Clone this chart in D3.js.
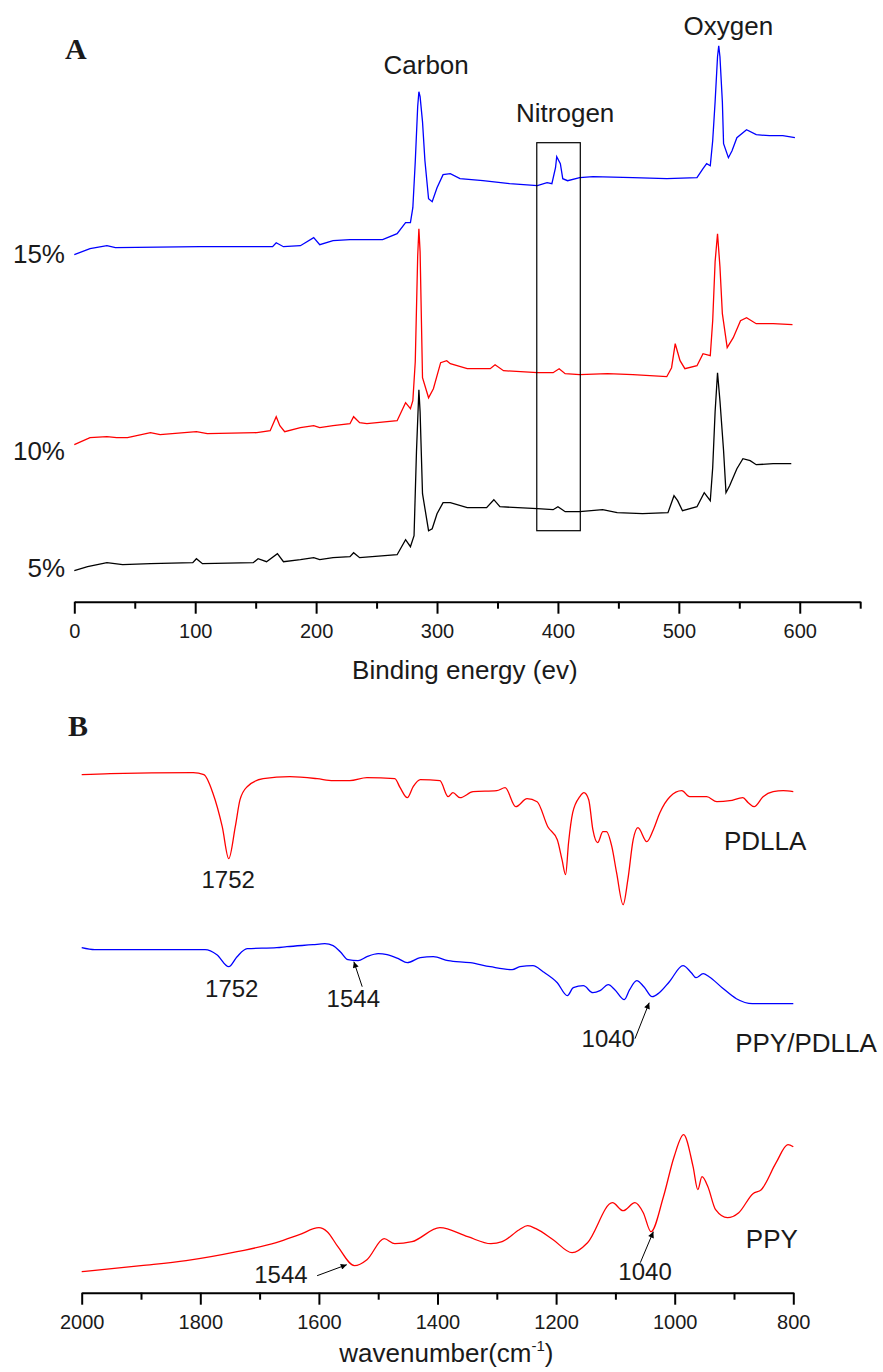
<!DOCTYPE html>
<html>
<head>
<meta charset="utf-8">
<script src="https://cdn.jsdelivr.net/npm/d3@7"></script>
<style>
  body { margin: 0; background: #fff; }
  svg text { font-family: "Liberation Sans", Arial, sans-serif; fill: #1a1a1a; }
</style>
</head>
<body>
<svg id="chart" width="883" height="1372"></svg>
<script>
// ---- Panel A: XPS survey spectra (binding energy, eV / intensity a.u.) ----
const energy15 = [0,13,27,34,104,164,167,173,187,198,203,214,228,255,267,274,278,280,282,284,285,286,288,290,293,296,300,305,311,319,338,360,383,391,395,398,399,402,404,408,418,429,462,490,515,520,523,526,528,530,532,533,534,536,537,541,544,548,556,564,575,586,596];
const counts15 = [347,353,356,354,355,355,359,355,356,364,357,361,362,362,368,379,379,394,440,495,510,505,480,441,403,400,414,427,428,423,421,418,416,419,418,434,445,438,423,421,424,425,424,423,424,433,438,436,461,500,545,556,545,500,458,444,451,464,472,467,466,466,464];

const energy10 = [0,13,27,35,44,63,71,101,110,151,162,167,170,174,187,198,203,214,228,231,236,242,267,274,278,280,282,284,285,286,288,293,297,303,308,311,325,344,348,355,383,396,401,406,418,441,462,490,494,497,501,505,515,520,526,528,530,532,534,536,540,545,551,556,564,578,594];
const counts10 = [157,164,165,164,164,169,167,170,168,169,171,185,176,170,174,176,174,176,178,185,179,178,181,199,193,201,240,345,373,350,224,204,213,239,241,238,233,233,237,231,229,229,233,228,227,228,227,225,234,258,241,233,236,248,246,281,340,368,335,288,254,264,281,284,278,278,277];

const energy5 = [0,11,27,40,63,98,101,106,148,152,159,168,173,187,198,203,214,228,231,236,267,274,278,281,283,285,286,288,293,296,300,305,311,325,341,347,352,383,396,400,406,418,437,449,470,491,496,499,503,515,521,526,528,530,532,534,537,539,542,548,553,559,564,578,593];
const counts5 = [31,35,39,37,38,39,43,38,39,43,40,48,40,42,44,42,44,45,49,44,47,62,55,66,150,212,190,108,71,73,88,99,99,94,94,102,95,93,92,95,90,90,92,89,88,89,106,101,91,95,109,101,134,190,229,201,151,109,116,133,143,141,137,138,138];

const xpsLabels = ["15%", "10%", "5%"];
const xpsLabelLevel = [339, 142, 25];
const elementNames = ["Carbon", "Nitrogen", "Oxygen"];
const elementEnergy = [291, 406, 541];
const elementLevel = [528, 480, 567];
const nitrogenBox = [382.5, 418.5, 71, 459]; // eV from, eV to, level low, level high
const energyMajor = [0, 100, 200, 300, 400, 500, 600];
const energyMinor = [50, 150, 250, 350, 450, 550, 650];

// ---- Panel B: FTIR spectra (wavenumber, cm-1 / transmittance a.u.) ----
const wnPDLLA = [2000,1952,1812,1794,1779,1763,1752,1741,1733,1721,1694,1649,1603,1576,1548,1519,1472,1463,1451,1441,1429,1396,1382,1374,1362,1340,1300,1286,1268,1249,1232,1214,1198,1190,1184,1179,1172,1160,1153,1145,1138,1130,1121,1115,1106,1098,1087,1079,1070,1062,1047,1036,1025,1008,988,975,946,929,907,885,876,866,851,834,817,800];
const tPDLLA = [518,519,520,518,500,466,434,466,493,506,514,516,514,512,512,515,514,505,495,506,513,512,496,500,495,501,502,505,486,494,491,466,453,433,418,450,480,496,500,493,463,450,461,461,446,420,388,413,453,465,451,463,480,496,502,496,496,491,492,495,490,486,496,501,502,501];

const wnBlend = [2000,1978,1913,1792,1772,1752,1738,1721,1671,1654,1610,1590,1576,1564,1551,1534,1519,1500,1485,1466,1451,1429,1407,1382,1345,1311,1274,1261,1239,1222,1198,1181,1171,1154,1138,1126,1112,1101,1085,1076,1064,1052,1038,1026,1009,986,972,964,952,942,920,896,869,834,800];
const tBlend = [345,343,343,343,338,326,336,344,345,346,348,349,347,341,333,332,336,339,338,334,330,335,336,332,330,326,323,326,327,321,310,297,305,307,300,302,308,303,293,303,312,306,296,300,311,327,320,315,319,316,305,294,289,289,289];

const wnPPY = [2000,1900,1824,1738,1672,1633,1600,1586,1568,1540,1519,1490,1472,1443,1396,1349,1310,1291,1262,1248,1234,1205,1173,1147,1105,1087,1067,1053,1040,1019,1001,985,969,961,954,944,931,911,892,868,854,829,809,800];
const tPPY = [21,27,32,41,50,58,65,61,46,27,33,54,49,51,65,56,49,51,63,67,64,53,40,50,90,82,90,80,61,96,136,158,126,103,116,106,83,75,80,99,103,130,148,146];

const ftirNames = ["PDLLA", "PPY/PDLLA", "PPY"];
const ftirNameWn = [917, 898, 880];
const ftirNameLevel = [443, 241, 45];
// peak labels: text, wavenumber, level (text anchor), optional arrow [wn0, lv0, wn1, lv1]
const peakText = ["1752", "1752", "1544", "1040", "1544", "1040"];
const peakWn = [1753, 1747, 1542, 1112, 1664, 1050];
const peakLevel = [405, 296, 286, 246, 10, 13];
const peakArrows = [null, null, [1527, 306, 1541, 331], [1067, 254, 1043, 290], [1603, 17, 1553, 28], [1058, 30, 1036, 61]];
const wnMajor = [2000, 1800, 1600, 1400, 1200, 1000, 800];
const wnMinor = [1900, 1700, 1500, 1300, 1100, 900];

const svg = d3.select('#chart');

svg.append('defs').append('marker')
  .attr('id', 'arrow')
  .attr('viewBox', '0 0 10 10')
  .attr('refX', 10).attr('refY', 5)
  .attr('markerWidth', 8).attr('markerHeight', 6)
  .attr('markerUnits', 'userSpaceOnUse')
  .attr('orient', 'auto')
  .append('path').attr('d', 'M0,0 L10,5 L0,10 z').attr('fill', '#000');

function drawAxis (g, scale, major, minor, y) {
  g.append('g').attr('transform', `translate(0,${y})`)
    .call(d3.axisBottom(scale).tickValues(minor).tickSize(7).tickSizeOuter(0).tickFormat(''))
    .call(a => a.select('.domain').remove());
  const ax = g.append('g').attr('transform', `translate(0,${y})`)
    .call(d3.axisBottom(scale).tickValues(major).tickSize(12).tickSizeOuter(0).tickPadding(10).tickFormat(d3.format('d')));
  ax.selectAll('line, path').attr('stroke', '#000').attr('stroke-width', 2);
  g.selectAll('.tick line').attr('stroke', '#000').attr('stroke-width', 2);
  ax.selectAll('text').attr('font-size', 20).attr('font-family', '"Liberation Sans", Arial, sans-serif').attr('fill', '#333');
}

// ------------------------- Panel A -------------------------
const xA = d3.scaleLinear().domain([0, 650]).range([74.3, 860.2]);
const yA = d3.scaleLinear().domain([0, 600]).range([601.7, 1.7]);
const gA = svg.append('g');

const lineA = d3.line().x(d => xA(d[0])).y(d => yA(d[1]));
const xps = [
  { e: energy15, c: counts15, color: '#0000ff' },
  { e: energy10, c: counts10, color: '#ff0000' },
  { e: energy5, c: counts5, color: '#000000' }
];
xps.forEach(s => {
  gA.append('path')
    .datum(d3.zip(s.e, s.c))
    .attr('d', lineA)
    .attr('fill', 'none')
    .attr('stroke', s.color)
    .attr('stroke-width', 1.3);
});

gA.append('rect')
  .attr('x', xA(nitrogenBox[0]))
  .attr('y', yA(nitrogenBox[3]))
  .attr('width', xA(nitrogenBox[1]) - xA(nitrogenBox[0]))
  .attr('height', yA(nitrogenBox[2]) - yA(nitrogenBox[3]))
  .attr('fill', 'none').attr('stroke', '#000').attr('stroke-width', 1.2);

xpsLabels.forEach((t, i) => {
  gA.append('text').attr('x', 65).attr('y', yA(xpsLabelLevel[i]))
    .attr('text-anchor', 'end').attr('font-size', 26).text(t);
});
elementNames.forEach((t, i) => {
  gA.append('text').attr('x', xA(elementEnergy[i])).attr('y', yA(elementLevel[i]))
    .attr('text-anchor', 'middle').attr('font-size', 26).text(t);
});

drawAxis(gA, xA, energyMajor, energyMinor, 601.7);

gA.append('text').attr('x', xA(323)).attr('y', 679)
  .attr('text-anchor', 'middle').attr('font-size', 26).text('Binding energy (ev)');
gA.append('text').attr('x', 65).attr('y', 59)
  .style('font-family', '"Liberation Serif", "Times New Roman", serif')
  .attr('font-weight', 'bold').attr('font-size', 30).text('A');

// ------------------------- Panel B -------------------------
const xB = d3.scaleLinear().domain([2000, 800]).range([81.7, 793.3]);
const yB = d3.scaleLinear().domain([0, 560]).range([1292.7, 732.7]);
const gB = svg.append('g');

const lineB = d3.line().x(d => xB(d[0])).y(d => yB(d[1])).curve(d3.curveMonotoneX);
const ftir = [
  { w: wnPDLLA, t: tPDLLA, color: '#ff0000' },
  { w: wnBlend, t: tBlend, color: '#0000ff' },
  { w: wnPPY, t: tPPY, color: '#ff0000' }
];
ftir.forEach(s => {
  gB.append('path')
    .datum(d3.zip(s.w, s.t))
    .attr('d', lineB)
    .attr('fill', 'none')
    .attr('stroke', s.color)
    .attr('stroke-width', 1.3);
});

ftirNames.forEach((t, i) => {
  gB.append('text').attr('x', xB(ftirNameWn[i])).attr('y', yB(ftirNameLevel[i]))
    .attr('font-size', 26).text(t);
});
peakText.forEach((t, i) => {
  gB.append('text').attr('x', xB(peakWn[i])).attr('y', yB(peakLevel[i]))
    .attr('text-anchor', 'middle').attr('font-size', 24).text(t);
  const a = peakArrows[i];
  if (a) {
    gB.append('line')
      .attr('x1', xB(a[0])).attr('y1', yB(a[1]))
      .attr('x2', xB(a[2])).attr('y2', yB(a[3]))
      .attr('stroke', '#000').attr('stroke-width', 1)
      .attr('marker-end', 'url(#arrow)');
  }
});

drawAxis(gB, xB, wnMajor, wnMinor, 1292.7);

const title = gB.append('text').attr('x', xB(1385)).attr('y', 1362)
  .attr('text-anchor', 'middle').attr('font-size', 26);
title.append('tspan').text('wavenumber(cm');
title.append('tspan').attr('dy', -11).attr('font-size', 15).text('-1');
title.append('tspan').attr('dy', 11).text(')');

gB.append('text').attr('x', 68).attr('y', 736)
  .style('font-family', '"Liberation Serif", "Times New Roman", serif')
  .attr('font-weight', 'bold').attr('font-size', 30).text('B');
</script>
</body>
</html>
